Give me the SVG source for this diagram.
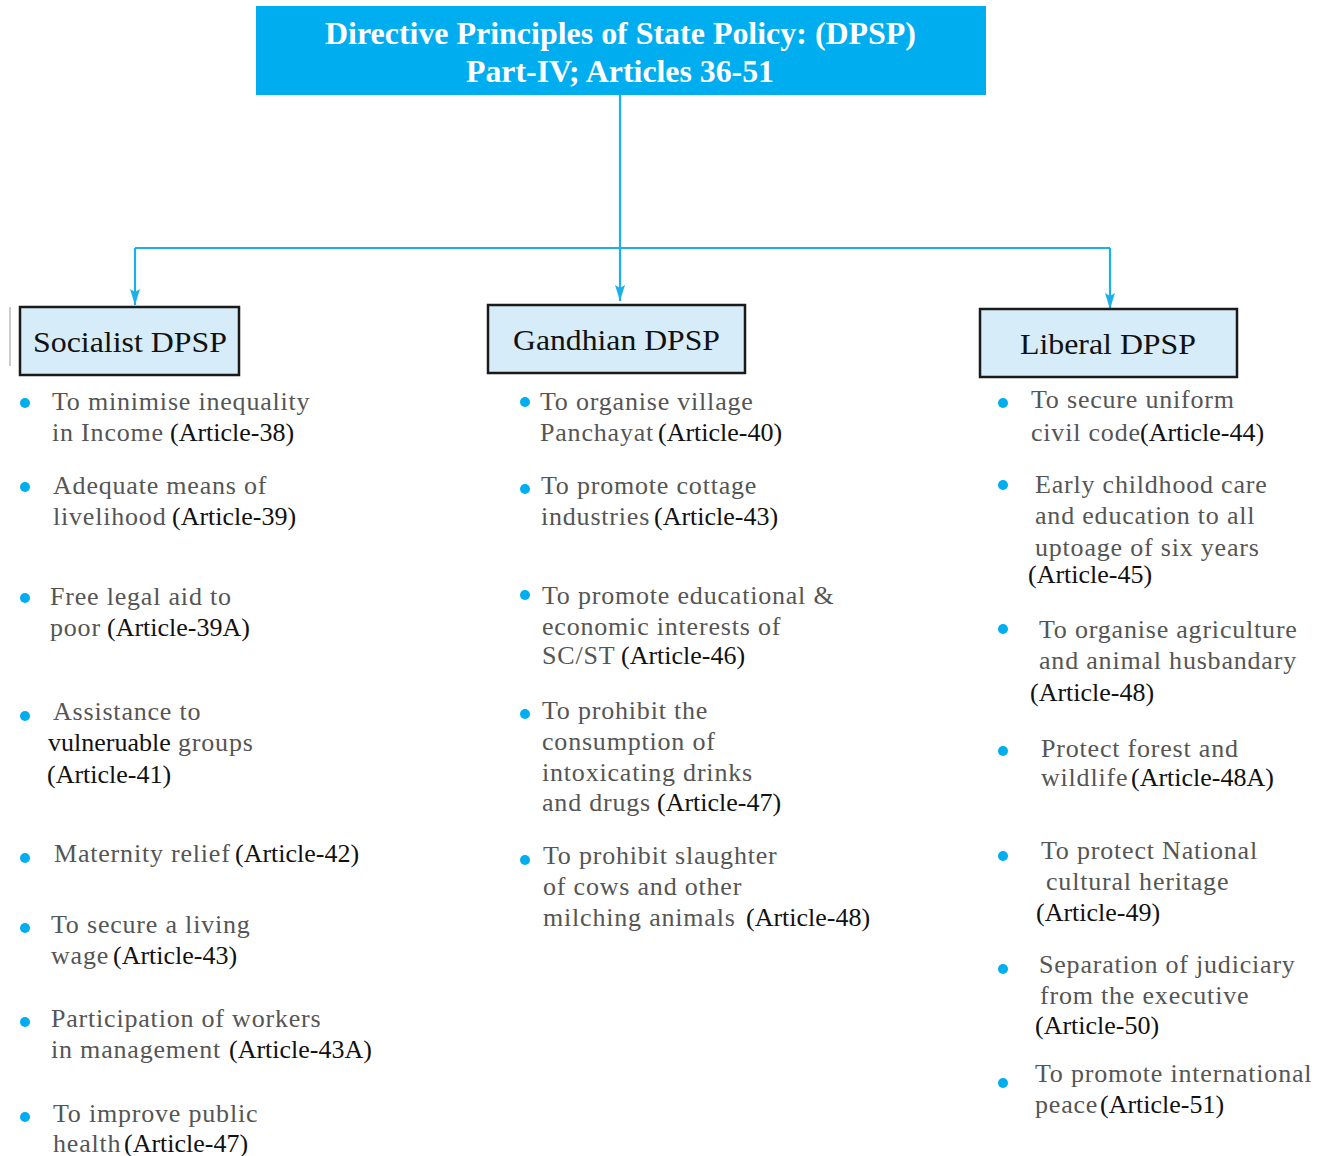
<svg xmlns="http://www.w3.org/2000/svg" width="1320" height="1156" viewBox="0 0 1320 1156">
<style>
.hd{font-family:"Liberation Serif",serif;font-weight:bold;font-size:32px;fill:#fff}
.bx{fill:#D6ECF8;stroke:#1a1a1a;stroke-width:2.5}
.bt{font-family:"Liberation Serif",serif;font-size:30px;fill:#111}
.t{font-family:"Liberation Serif",serif;font-size:26px}
.d{fill:#555;letter-spacing:0.8px}
.a{fill:#111}
.b{fill:#00AEEF}
.c{stroke:#1CB0E8;stroke-width:2.2;fill:none}
</style>
<defs>
<marker id="ar" viewBox="0 0 16 10" refX="16" refY="5" markerWidth="16" markerHeight="10" markerUnits="userSpaceOnUse" orient="auto">
<path d="M0,0 L16,5 L0,10 L3,5 Z" fill="#1CB0E8"/>
</marker>
</defs>
<rect width="1320" height="1156" fill="#fff"/>

<g id="header">
<rect x="256" y="6" width="730" height="89" fill="#00AEEF"/>
<text class="hd" x="325" y="44" textLength="591" lengthAdjust="spacingAndGlyphs">Directive Principles of State Policy: (DPSP)</text>
<text class="hd" x="466" y="82" textLength="308" lengthAdjust="spacingAndGlyphs">Part-IV; Articles 36-51</text>
</g>

<g id="connectors">
<path class="c" d="M620,95 V248"/>
<path class="c" d="M620,248 V301" marker-end="url(#ar)"/>
<path class="c" d="M135,248 H1110"/>
<path class="c" d="M135,248 V305" marker-end="url(#ar)"/>
<path class="c" d="M1110,248 V309" marker-end="url(#ar)"/>
</g>

<g id="socialist">
<line x1="10" y1="307" x2="10" y2="366" stroke="#bbb" stroke-width="1.5"/>
<rect class="bx" x="20" y="307" width="219" height="68"/>
<text class="bt" x="33" y="352" textLength="194" lengthAdjust="spacingAndGlyphs">Socialist DPSP</text>
</g>
<g id="gandhian">
<rect class="bx" x="488" y="305" width="257" height="68"/>
<text class="bt" x="513" y="350" textLength="207" lengthAdjust="spacingAndGlyphs">Gandhian DPSP</text>
</g>
<g id="liberal">
<rect class="bx" x="980" y="309" width="257" height="68"/>
<text class="bt" x="1020" y="354" textLength="176" lengthAdjust="spacingAndGlyphs">Liberal DPSP</text>
</g>

<g id="socialist-items">
<circle class="b" cx="25" cy="403" r="5"/>
<text class="t" x="52" y="410"><tspan class="d">To minimise inequality</tspan></text>
<text class="t" x="52" y="441"><tspan class="d">in Income</tspan><tspan class="a" x="170">(Article-38)</tspan></text>

<circle class="b" cx="25" cy="487" r="5"/>
<text class="t" x="53" y="494"><tspan class="d">Adequate means of</tspan></text>
<text class="t" x="53" y="525"><tspan class="d">livelihood</tspan><tspan class="a" x="172">(Article-39)</tspan></text>

<circle class="b" cx="25" cy="598" r="5"/>
<text class="t" x="50" y="605"><tspan class="d">Free legal aid to</tspan></text>
<text class="t" x="50" y="636"><tspan class="d">poor</tspan><tspan class="a" x="107">(Article-39A)</tspan></text>

<circle class="b" cx="25" cy="716" r="5"/>
<text class="t" x="53" y="720"><tspan class="d">Assistance to</tspan></text>
<text class="t" x="48" y="751"><tspan class="a">vulneruable</tspan><tspan class="d"> groups</tspan></text>
<text class="t" x="47" y="783"><tspan class="a">(Article-41)</tspan></text>

<circle class="b" cx="25" cy="858" r="5"/>
<text class="t" x="54" y="862"><tspan class="d">Maternity relief</tspan><tspan class="a" x="235">(Article-42)</tspan></text>

<circle class="b" cx="25" cy="928" r="5"/>
<text class="t" x="51" y="933"><tspan class="d">To secure a living</tspan></text>
<text class="t" x="51" y="964"><tspan class="d">wage</tspan><tspan class="a" x="113">(Article-43)</tspan></text>

<circle class="b" cx="25" cy="1022" r="5"/>
<text class="t" x="51" y="1027"><tspan class="d">Participation of workers</tspan></text>
<text class="t" x="51" y="1058"><tspan class="d">in management</tspan><tspan class="a" x="229">(Article-43A)</tspan></text>

<circle class="b" cx="25" cy="1117" r="5"/>
<text class="t" x="53" y="1122"><tspan class="d">To improve public</tspan></text>
<text class="t" x="53" y="1152"><tspan class="d">health</tspan><tspan class="a" x="124">(Article-47)</tspan></text>
</g>

<g id="gandhian-items">
<circle class="b" cx="525" cy="402" r="5"/>
<text class="t" x="540" y="410"><tspan class="d">To organise village</tspan></text>
<text class="t" x="540" y="441"><tspan class="d">Panchayat</tspan><tspan class="a" x="658">(Article-40)</tspan></text>

<circle class="b" cx="525" cy="489" r="5"/>
<text class="t" x="541" y="494"><tspan class="d">To promote cottage</tspan></text>
<text class="t" x="541" y="525"><tspan class="d">industries</tspan><tspan class="a" x="654">(Article-43)</tspan></text>

<circle class="b" cx="525" cy="595" r="5"/>
<text class="t" x="542" y="604"><tspan class="d">To promote educational &amp;</tspan></text>
<text class="t" x="542" y="635"><tspan class="d">economic interests  of</tspan></text>
<text class="t" x="542" y="664"><tspan class="d">SC/ST</tspan><tspan class="a" x="621">(Article-46)</tspan></text>

<circle class="b" cx="525" cy="714" r="5"/>
<text class="t" x="542" y="719"><tspan class="d">To prohibit the</tspan></text>
<text class="t" x="542" y="750"><tspan class="d">consumption of</tspan></text>
<text class="t" x="542" y="781"><tspan class="d">intoxicating drinks</tspan></text>
<text class="t" x="542" y="811"><tspan class="d">and drugs</tspan><tspan class="a" x="657">(Article-47)</tspan></text>

<circle class="b" cx="525" cy="860" r="5"/>
<text class="t" x="543" y="864"><tspan class="d">To prohibit slaughter</tspan></text>
<text class="t" x="543" y="895"><tspan class="d">of cows and other</tspan></text>
<text class="t" x="543" y="926"><tspan class="d">milching animals</tspan><tspan class="a" x="746">(Article-48)</tspan></text>
</g>

<g id="liberal-items">
<circle class="b" cx="1003" cy="403" r="5"/>
<text class="t" x="1031" y="408"><tspan class="d">To secure uniform</tspan></text>
<text class="t" x="1031" y="441"><tspan class="d">civil code</tspan><tspan class="a" x="1140">(Article-44)</tspan></text>

<circle class="b" cx="1003" cy="485" r="5"/>
<text class="t" x="1035" y="493"><tspan class="d">Early childhood care</tspan></text>
<text class="t" x="1035" y="524"><tspan class="d">and education to all</tspan></text>
<text class="t" x="1035" y="556"><tspan class="d">uptoage  of six years</tspan></text>
<text class="t" x="1028" y="583"><tspan class="a">(Article-45)</tspan></text>

<circle class="b" cx="1003" cy="629" r="5"/>
<text class="t" x="1039" y="638"><tspan class="d">To organise agriculture</tspan></text>
<text class="t" x="1039" y="669"><tspan class="d">and animal husbandary</tspan></text>
<text class="t" x="1030" y="701"><tspan class="a">(Article-48)</tspan></text>

<circle class="b" cx="1003" cy="751" r="5"/>
<text class="t" x="1041" y="757"><tspan class="d">Protect forest and</tspan></text>
<text class="t" x="1041" y="786"><tspan class="d">wildlife</tspan><tspan class="a" x="1131">(Article-48A)</tspan></text>

<circle class="b" cx="1003" cy="856" r="5"/>
<text class="t" x="1041" y="859"><tspan class="d">To protect National</tspan></text>
<text class="t" x="1046" y="890"><tspan class="d">cultural heritage</tspan></text>
<text class="t" x="1036" y="921"><tspan class="a">(Article-49)</tspan></text>

<circle class="b" cx="1003" cy="969" r="5"/>
<text class="t" x="1039" y="973"><tspan class="d">Separation of judiciary</tspan></text>
<text class="t" x="1040" y="1004"><tspan class="d">from the executive</tspan></text>
<text class="t" x="1035" y="1034"><tspan class="a">(Article-50)</tspan></text>

<circle class="b" cx="1003" cy="1083" r="5"/>
<text class="t" x="1035" y="1082"><tspan class="d">To promote international</tspan></text>
<text class="t" x="1035" y="1113"><tspan class="d">peace</tspan><tspan class="a" x="1100">(Article-51)</tspan></text>
</g>
</svg>
